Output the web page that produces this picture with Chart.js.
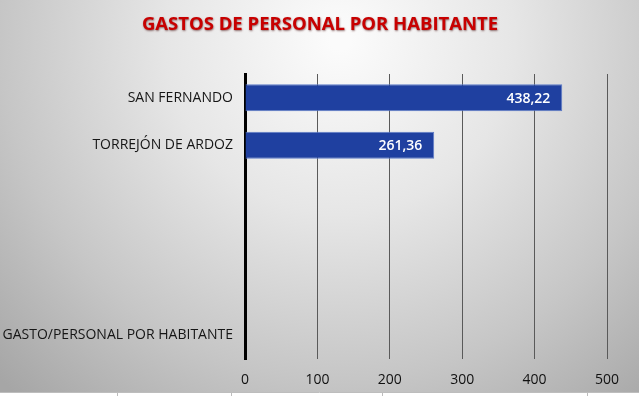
<!DOCTYPE html>
<html>
<head>
<meta charset="utf-8">
<script src="https://cdn.jsdelivr.net/npm/chart.js@4"></script>
<style>
  html, body { margin: 0; padding: 0; background: #fff; }
  #wrap { width: 639px; height: 396px; }
</style>
</head>
<body>
<div id="wrap"><canvas id="myChart" width="639" height="396"></canvas></div>
<script>
const chartTitle = 'GASTOS DE PERSONAL POR HABITANTE'
const labels = ["SAN FERNANDO", "TORREJÓN DE ARDOZ", "", "", "", "GASTO/PERSONAL POR HABITANTE"]
const gasto = [438.22, 261.36, null, null, null, null]
const xTicks = [0, 100, 200, 300, 400, 500]

// grey spreadsheet-style backdrop, title, cell borders at the bottom
const backdrop = {
  id: 'backdrop',
  beforeDraw(chart) {
    const c = chart.ctx
    const w = chart.width, h = chart.height
    c.save()
    const g = c.createRadialGradient(340, 40, 10, 340, 40, 480)
    g.addColorStop(0, '#fbfbfb')
    g.addColorStop(0.35, '#e6e6e6')
    g.addColorStop(0.7, '#c6c6c6')
    g.addColorStop(1, '#a6a6a6')
    c.fillStyle = g
    c.fillRect(0, 0, w, 392)
    c.fillStyle = '#ffffff'
    c.fillRect(0, 392, w, h - 392)
    c.strokeStyle = '#bdbdbd'
    c.lineWidth = 1
    c.beginPath()
    c.moveTo(0, 392.5); c.lineTo(w, 392.5)
    ;[117, 231, 382, 587].forEach(x => { c.moveTo(x + 0.5, 392); c.lineTo(x + 0.5, h) })
    c.stroke()

    // title (centred on the whole picture, not the plot)
    c.font = 'bold 18.5px "Open Sans"'
    c.textAlign = 'center'
    c.textBaseline = 'middle'
    c.shadowColor = 'rgba(60,0,0,0.55)'
    c.shadowBlur = 2
    c.shadowOffsetX = 0.5
    c.shadowOffsetY = 0.5
    c.fillStyle = '#c80000'
    c.fillText(chartTitle, 320, 25)
    c.restore()
  }
}

// value labels inside the bar ends
const barValues = {
  id: 'barValues',
  afterDatasetsDraw(chart) {
    const c = chart.ctx
    const meta = chart.getDatasetMeta(0)
    c.save()
    c.font = '600 14px "Open Sans"'
    c.fillStyle = '#ffffff'
    c.textAlign = 'right'
    c.textBaseline = 'middle'
    meta.data.forEach((bar, i) => {
      const v = gasto[i]
      if (v == null) return
      c.fillText(v.toFixed(2).replace('.', ','), bar.x - 12, bar.y + 1)
    })
    c.restore()
  }
}

const ctx = document.getElementById('myChart')
new Chart(ctx, {
  type: 'bar',
  data: {
    labels: labels,
    datasets: [{
      label: 'GASTO/PERSONAL POR HABITANTE',
      data: gasto,
      backgroundColor: '#1f40a0',
      borderColor: '#5d7bc8',
      borderWidth: 1,
      borderSkipped: 'start',
      barPercentage: 0.57,
      categoryPercentage: 1
    }]
  },
  options: {
    indexAxis: 'y',
    responsive: false,
    animation: false,
    layout: { padding: { left: 0, right: 32, top: 74, bottom: 0 } },
    plugins: {
      legend: { display: false },
      tooltip: { enabled: false },
      title: { display: false }
    },
    scales: {
      x: {
        min: 0,
        max: 500,
        afterBuildTicks(scale) { scale.ticks = xTicks.map(v => ({ value: v })) },
        afterFit(scale) { scale.height = 37 },
        border: { display: false },
        grid: {
          drawTicks: false,
          color: (c) => c.tick && c.tick.value === 0 ? 'rgba(0,0,0,0)' : '#5a5a5a',
          lineWidth: 1
        },
        ticks: {
          color: '#111',
          padding: 13,
          font: { family: 'Open Sans', size: 14 }
        }
      },
      y: {
        afterFit(scale) { scale.width = 245 },
        border: { display: true, color: '#000', width: 3 },
        grid: { display: false, drawTicks: false },
        ticks: {
          color: '#161616',
          padding: 12,
          autoSkip: false,
          font: { family: 'Open Sans', size: 14 }
        }
      }
    }
  },
  plugins: [backdrop, barValues]
})
</script>
</body>
</html>
